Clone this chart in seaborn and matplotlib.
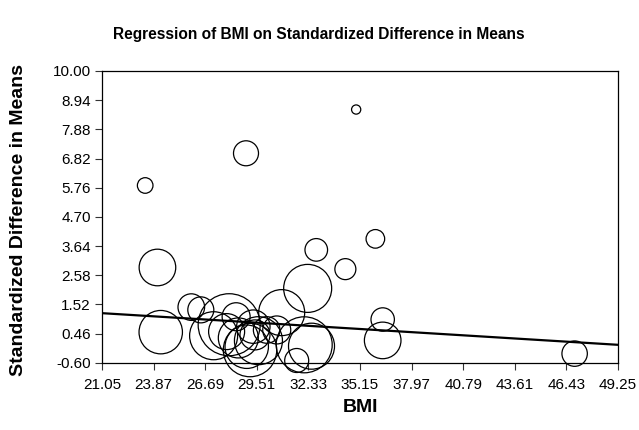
import numpy as np
import pandas as pd
import matplotlib
matplotlib.use("Agg")
import matplotlib.pyplot as plt
import seaborn as sns

# ---- data ----
bmi = [23.41, 24.08, 24.26, 25.93, 26.45, 28.00, 27.15, 27.86, 28.38, 28.92,
       28.96, 29.14, 29.41, 29.32, 30.05, 30.60, 30.87, 32.29, 32.76, 34.35,
       34.94, 35.99, 36.39, 36.39, 46.88, 32.10, 32.50, 31.69, 29.60, 28.50]
smd = [5.84, 2.86, 0.51, 1.42, 1.32, 0.78, 0.38, 0.53, 1.07, 7.01,
       -0.02, -0.14, 0.41, 0.71, 0.59, 0.59, 1.22, 2.10, 3.50, 2.80,
       8.60, 3.90, 0.97, 0.21, -0.27, 0.05, 0.00, -0.52, 0.20, 0.30]
# relative study weight (bubble radius)
weight = [7.8, 18.3, 21.7, 13.3, 13.0, 31.0, 24.0, 18.0, 14.0, 12.5,
          21.7, 26.7, 15.0, 16.7, 13.3, 14.0, 23.0, 24.0, 11.3, 10.5,
          4.6, 9.3, 11.7, 18.3, 12.7, 28.0, 23.0, 12.0, 24.0, 20.0]

reg_x = [21.05, 49.25]
reg_y = [1.20, 0.05]

x_ticks = [21.05, 23.87, 26.69, 29.51, 32.33, 35.15, 37.97, 40.79, 43.61, 46.43, 49.25]
y_ticks = [-0.60, 0.46, 1.52, 2.58, 3.64, 4.70, 5.76, 6.82, 7.88, 8.94, 10.00]

title = "Regression of BMI on Standardized Difference in Means"
xlabel = "BMI"
ylabel = "Standardized Difference in Means"

# ---- plot ----
sns.set_style("white")
plt.rcParams['font.family'] = ['Liberation Sans', 'DejaVu Sans']
plt.rcParams['text.color'] = 'black'
plt.rcParams['axes.labelcolor'] = 'black'
plt.rcParams['xtick.color'] = 'black'
plt.rcParams['ytick.color'] = 'black'

W, H = 639, 430
L, R, T, B = 102, 618, 71, 362.7
fig = plt.figure(figsize=(W/100, H/100), dpi=100)
ax = fig.add_axes([L/W, 1 - B/H, (R-L)/W, (B-T)/H])

df = pd.DataFrame({"bmi": bmi, "smd": smd, "w": weight})
df["s"] = (2 * df["w"] * 0.72) ** 2
smin, smax = df["s"].min(), df["s"].max()

sns.scatterplot(data=df, x="bmi", y="smd", size="s", sizes=(smin, smax),
                size_norm=(smin, smax), legend=False, ax=ax,
                facecolors="none", edgecolor="black", linewidth=0.9,
                clip_on=False, zorder=3)

sns.lineplot(x=reg_x, y=reg_y, ax=ax, color="black", linewidth=1.6, zorder=4)

ax.set_xlim(x_ticks[0], x_ticks[-1])
ax.set_ylim(y_ticks[0], y_ticks[-1])
ax.set_xticks(x_ticks)
ax.set_yticks(y_ticks)
ax.set_xticklabels([f"{v:.2f}" for v in x_ticks])
ax.set_yticklabels([f"{v:.2f}" for v in y_ticks])
ax.tick_params(axis="both", which="major", direction="out", length=5, width=0.8,
               labelsize=11, color="#333333", labelcolor="black",
               bottom=True, left=True)
ax.tick_params(axis="x", pad=6)
ax.tick_params(axis="y", pad=3)
for sp in ax.spines.values():
    sp.set_visible(True)
    sp.set_color("black")
    sp.set_linewidth(0.9)

ax.set_xlabel(xlabel, fontsize=14, fontweight="bold", va="center", color="black")
ax.xaxis.set_label_coords(0.5, (B - 408) / (B - T))
ax.set_ylabel(ylabel, fontsize=14, fontweight="bold", va="center", color="black")
ax.yaxis.set_label_coords((19 - L) / (R - L), (B - 220) / (B - T))
fig.text(318.5/W, 1 - 35/H, title, ha="center", va="center", fontsize=11.2,
         fontweight="bold", color="black")

fig.savefig("out.png", dpi=100)
